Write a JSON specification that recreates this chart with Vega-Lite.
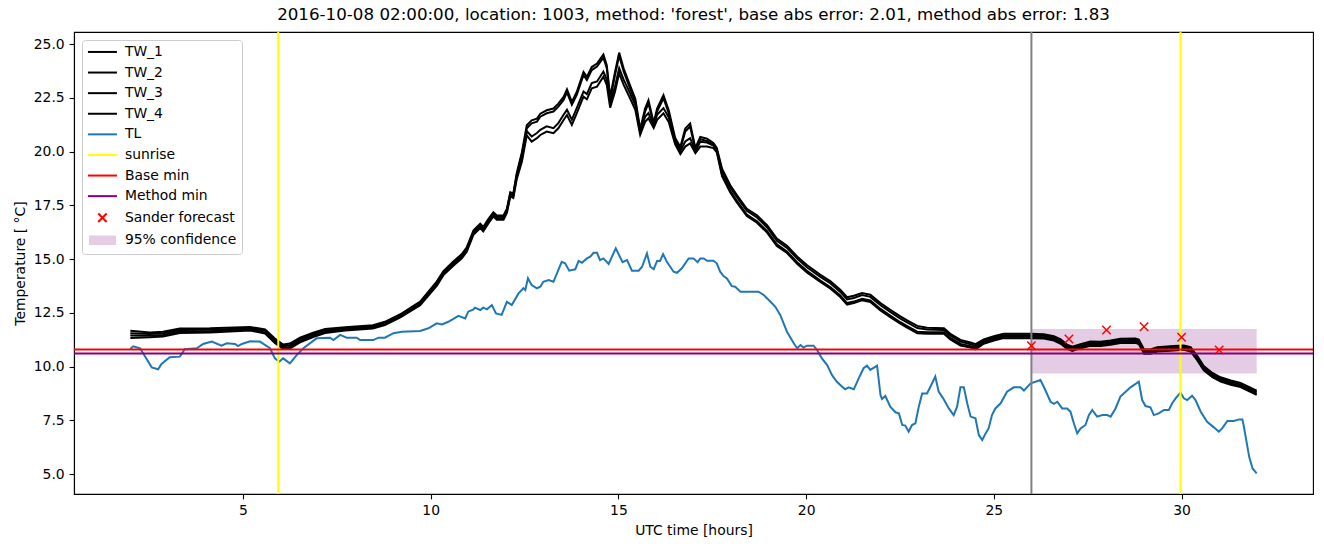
{
  "$schema": "https://vega.github.io/schema/vega-lite/v6.json",
  "width": 1239,
  "height": 462,
  "autosize": {"type": "none"},
  "padding": {"left": 74, "top": 32, "right": 11, "bottom": 53},
  "background": "white",
  "title": {"text": "2016-10-08 02:00:00, location: 1003, method: 'forest', base abs error: 2.01, method abs error: 1.83", "font": "DejaVu Sans", "fontSize": 16.7, "fontWeight": "normal", "color": "black", "anchor": "middle", "offset": 7},
  "config": {
    "view": {"stroke": "black", "strokeWidth": 1.1},
    "font": "DejaVu Sans",
    "axis": {"grid": false, "domainColor": "black", "domainWidth": 1.1, "tickColor": "black", "tickWidth": 1.1, "tickSize": 4.9, "labelFont": "DejaVu Sans", "labelFontSize": 13.9, "labelColor": "black", "labelPadding": 4.9, "titleFont": "DejaVu Sans", "titleFontSize": 13.9, "titleFontWeight": "normal", "titleColor": "black", "titlePadding": 5.6, "labelFlush": false, "labelOverlap": false}
  },
  "datasets": {
    "tw": [
      {"h":2.00,"TW_1":11.66,"TW_2":11.55,"TW_3":11.44,"TW_4":11.33},
      {"h":2.52,"TW_1":11.58,"TW_2":11.51,"TW_3":11.43,"TW_4":11.36},
      {"h":2.87,"TW_1":11.62,"TW_2":11.55,"TW_3":11.47,"TW_4":11.40},
      {"h":3.32,"TW_1":11.77,"TW_2":11.70,"TW_3":11.63,"TW_4":11.56},
      {"h":4.12,"TW_1":11.78,"TW_2":11.71,"TW_3":11.64,"TW_4":11.58},
      {"h":5.19,"TW_1":11.84,"TW_2":11.78,"TW_3":11.72,"TW_4":11.67},
      {"h":5.59,"TW_1":11.72,"TW_2":11.66,"TW_3":11.59,"TW_4":11.54},
      {"h":5.85,"TW_1":11.30,"TW_2":11.23,"TW_3":11.16,"TW_4":11.10},
      {"h":6.07,"TW_1":11.02,"TW_2":10.95,"TW_3":10.88,"TW_4":10.82},
      {"h":6.25,"TW_1":11.07,"TW_2":10.99,"TW_3":10.91,"TW_4":10.84},
      {"h":6.52,"TW_1":11.34,"TW_2":11.27,"TW_3":11.19,"TW_4":11.12},
      {"h":6.87,"TW_1":11.57,"TW_2":11.50,"TW_3":11.43,"TW_4":11.37},
      {"h":7.19,"TW_1":11.74,"TW_2":11.68,"TW_3":11.61,"TW_4":11.56},
      {"h":7.72,"TW_1":11.83,"TW_2":11.78,"TW_3":11.73,"TW_4":11.68},
      {"h":8.46,"TW_1":11.92,"TW_2":11.87,"TW_3":11.82,"TW_4":11.77},
      {"h":8.78,"TW_1":12.08,"TW_2":12.03,"TW_3":11.98,"TW_4":11.93},
      {"h":9.18,"TW_1":12.42,"TW_2":12.37,"TW_3":12.32,"TW_4":12.27},
      {"h":9.72,"TW_1":13.02,"TW_2":12.97,"TW_3":12.91,"TW_4":12.85},
      {"h":10.16,"TW_1":13.95,"TW_2":13.89,"TW_3":13.82,"TW_4":13.75},
      {"h":10.34,"TW_1":14.44,"TW_2":14.39,"TW_3":14.32,"TW_4":14.25},
      {"h":10.61,"TW_1":14.90,"TW_2":14.84,"TW_3":14.77,"TW_4":14.70},
      {"h":10.83,"TW_1":15.23,"TW_2":15.17,"TW_3":15.10,"TW_4":15.03},
      {"h":10.96,"TW_1":15.54,"TW_2":15.48,"TW_3":15.41,"TW_4":15.34},
      {"h":11.14,"TW_1":16.33,"TW_2":16.27,"TW_3":16.20,"TW_4":16.13},
      {"h":11.32,"TW_1":16.64,"TW_2":16.58,"TW_3":16.51,"TW_4":16.44},
      {"h":11.40,"TW_1":16.49,"TW_2":16.43,"TW_3":16.36,"TW_4":16.29},
      {"h":11.54,"TW_1":16.87,"TW_2":16.81,"TW_3":16.74,"TW_4":16.67},
      {"h":11.67,"TW_1":17.18,"TW_2":17.12,"TW_3":17.05,"TW_4":16.98},
      {"h":11.76,"TW_1":17.03,"TW_2":16.97,"TW_3":16.90,"TW_4":16.83},
      {"h":11.94,"TW_1":17.03,"TW_2":16.97,"TW_3":16.90,"TW_4":16.83},
      {"h":12.03,"TW_1":17.34,"TW_2":17.28,"TW_3":17.21,"TW_4":17.14},
      {"h":12.12,"TW_1":18.11,"TW_2":18.05,"TW_3":17.98,"TW_4":17.91},
      {"h":12.20,"TW_1":18.04,"TW_2":17.98,"TW_3":17.91,"TW_4":17.84},
      {"h":12.29,"TW_1":18.98,"TW_2":18.90,"TW_3":18.80,"TW_4":18.70},
      {"h":12.43,"TW_1":19.97,"TW_2":19.88,"TW_3":19.68,"TW_4":19.54},
      {"h":12.56,"TW_1":21.22,"TW_2":21.08,"TW_3":20.95,"TW_4":20.75},
      {"h":12.69,"TW_1":21.45,"TW_2":21.31,"TW_3":20.70,"TW_4":20.46},
      {"h":12.83,"TW_1":21.53,"TW_2":21.39,"TW_3":20.86,"TW_4":20.62},
      {"h":12.92,"TW_1":21.76,"TW_2":21.62,"TW_3":21.01,"TW_4":20.77},
      {"h":13.09,"TW_1":21.92,"TW_2":21.78,"TW_3":21.17,"TW_4":20.93},
      {"h":13.27,"TW_1":22.00,"TW_2":21.86,"TW_3":21.09,"TW_4":20.85},
      {"h":13.40,"TW_1":22.23,"TW_2":22.09,"TW_3":21.32,"TW_4":21.08},
      {"h":13.54,"TW_1":22.54,"TW_2":22.40,"TW_3":21.71,"TW_4":21.47},
      {"h":13.63,"TW_1":22.89,"TW_2":22.75,"TW_3":21.94,"TW_4":21.70},
      {"h":13.76,"TW_1":22.31,"TW_2":22.17,"TW_3":21.48,"TW_4":21.24},
      {"h":13.89,"TW_1":22.77,"TW_2":22.63,"TW_3":22.02,"TW_4":21.78},
      {"h":14.07,"TW_1":23.70,"TW_2":23.56,"TW_3":22.79,"TW_4":22.55},
      {"h":14.16,"TW_1":23.47,"TW_2":23.33,"TW_3":22.67,"TW_4":22.43},
      {"h":14.29,"TW_1":23.93,"TW_2":23.79,"TW_3":23.18,"TW_4":22.94},
      {"h":14.43,"TW_1":24.09,"TW_2":23.95,"TW_3":23.26,"TW_4":23.02},
      {"h":14.60,"TW_1":24.51,"TW_2":24.37,"TW_3":23.72,"TW_4":23.48},
      {"h":14.69,"TW_1":24.02,"TW_2":23.88,"TW_3":23.34,"TW_4":23.10},
      {"h":14.78,"TW_1":22.54,"TW_2":22.40,"TW_3":22.26,"TW_4":22.04},
      {"h":14.91,"TW_1":23.70,"TW_2":23.56,"TW_3":23.03,"TW_4":22.79},
      {"h":15.02,"TW_1":24.60,"TW_2":24.46,"TW_3":23.88,"TW_4":23.64},
      {"h":15.14,"TW_1":23.86,"TW_2":23.72,"TW_3":23.34,"TW_4":23.10},
      {"h":15.31,"TW_1":23.08,"TW_2":22.94,"TW_3":22.72,"TW_4":22.48},
      {"h":15.45,"TW_1":22.46,"TW_2":22.32,"TW_3":22.16,"TW_4":21.94},
      {"h":15.58,"TW_1":21.04,"TW_2":20.95,"TW_3":20.88,"TW_4":20.78},
      {"h":15.71,"TW_1":22.00,"TW_2":21.86,"TW_3":21.62,"TW_4":21.38},
      {"h":15.80,"TW_1":22.38,"TW_2":22.24,"TW_3":21.79,"TW_4":21.55},
      {"h":15.94,"TW_1":21.34,"TW_2":21.25,"TW_3":21.20,"TW_4":21.10},
      {"h":16.03,"TW_1":22.00,"TW_2":21.86,"TW_3":21.71,"TW_4":21.47},
      {"h":16.20,"TW_1":22.62,"TW_2":22.48,"TW_3":22.02,"TW_4":21.78},
      {"h":16.34,"TW_1":21.92,"TW_2":21.78,"TW_3":21.60,"TW_4":21.38},
      {"h":16.51,"TW_1":20.64,"TW_2":20.55,"TW_3":20.45,"TW_4":20.34},
      {"h":16.65,"TW_1":20.21,"TW_2":20.11,"TW_3":20.02,"TW_4":19.88},
      {"h":16.78,"TW_1":21.07,"TW_2":20.93,"TW_3":20.47,"TW_4":20.23},
      {"h":16.91,"TW_1":21.30,"TW_2":21.16,"TW_3":20.62,"TW_4":20.38},
      {"h":17.05,"TW_1":20.17,"TW_2":20.08,"TW_3":20.03,"TW_4":19.93},
      {"h":17.18,"TW_1":20.68,"TW_2":20.57,"TW_3":20.45,"TW_4":20.23},
      {"h":17.36,"TW_1":20.60,"TW_2":20.49,"TW_3":20.42,"TW_4":20.23},
      {"h":17.53,"TW_1":20.40,"TW_2":20.31,"TW_3":20.28,"TW_4":20.16},
      {"h":17.62,"TW_1":20.17,"TW_2":20.09,"TW_3":20.06,"TW_4":19.96},
      {"h":17.76,"TW_1":19.20,"TW_2":19.10,"TW_3":18.93,"TW_4":18.86},
      {"h":17.98,"TW_1":18.43,"TW_2":18.33,"TW_3":18.16,"TW_4":18.09},
      {"h":18.16,"TW_1":17.96,"TW_2":17.86,"TW_3":17.69,"TW_4":17.62},
      {"h":18.42,"TW_1":17.34,"TW_2":17.24,"TW_3":17.07,"TW_4":17.00},
      {"h":18.69,"TW_1":17.03,"TW_2":16.93,"TW_3":16.76,"TW_4":16.69},
      {"h":18.96,"TW_1":16.57,"TW_2":16.47,"TW_3":16.30,"TW_4":16.23},
      {"h":19.22,"TW_1":15.95,"TW_2":15.85,"TW_3":15.68,"TW_4":15.61},
      {"h":19.49,"TW_1":15.62,"TW_2":15.52,"TW_3":15.35,"TW_4":15.28},
      {"h":19.76,"TW_1":15.12,"TW_2":15.02,"TW_3":14.85,"TW_4":14.78},
      {"h":20.02,"TW_1":14.72,"TW_2":14.62,"TW_3":14.45,"TW_4":14.38},
      {"h":20.38,"TW_1":14.27,"TW_2":14.17,"TW_3":14.00,"TW_4":13.93},
      {"h":20.65,"TW_1":13.96,"TW_2":13.86,"TW_3":13.69,"TW_4":13.62},
      {"h":20.91,"TW_1":13.57,"TW_2":13.47,"TW_3":13.30,"TW_4":13.23},
      {"h":21.09,"TW_1":13.22,"TW_2":13.12,"TW_3":12.95,"TW_4":12.88},
      {"h":21.27,"TW_1":13.29,"TW_2":13.19,"TW_3":13.02,"TW_4":12.95},
      {"h":21.49,"TW_1":13.42,"TW_2":13.32,"TW_3":13.15,"TW_4":13.08},
      {"h":21.71,"TW_1":13.34,"TW_2":13.24,"TW_3":13.07,"TW_4":13.00},
      {"h":21.98,"TW_1":12.95,"TW_2":12.85,"TW_3":12.68,"TW_4":12.61},
      {"h":22.24,"TW_1":12.64,"TW_2":12.54,"TW_3":12.37,"TW_4":12.30},
      {"h":22.51,"TW_1":12.33,"TW_2":12.23,"TW_3":12.06,"TW_4":11.99},
      {"h":22.69,"TW_1":12.15,"TW_2":12.05,"TW_3":11.88,"TW_4":11.81},
      {"h":22.96,"TW_1":11.89,"TW_2":11.79,"TW_3":11.62,"TW_4":11.55},
      {"h":23.22,"TW_1":11.80,"TW_2":11.72,"TW_3":11.59,"TW_4":11.52},
      {"h":23.67,"TW_1":11.78,"TW_2":11.70,"TW_3":11.59,"TW_4":11.52},
      {"h":23.84,"TW_1":11.52,"TW_2":11.44,"TW_3":11.33,"TW_4":11.26},
      {"h":24.11,"TW_1":11.24,"TW_2":11.16,"TW_3":11.05,"TW_4":10.98},
      {"h":24.38,"TW_1":11.12,"TW_2":11.04,"TW_3":10.95,"TW_4":10.88},
      {"h":24.51,"TW_1":11.04,"TW_2":10.96,"TW_3":10.87,"TW_4":10.80},
      {"h":24.73,"TW_1":11.26,"TW_2":11.19,"TW_3":11.12,"TW_4":11.06},
      {"h":25.00,"TW_1":11.41,"TW_2":11.34,"TW_3":11.27,"TW_4":11.21},
      {"h":25.26,"TW_1":11.52,"TW_2":11.45,"TW_3":11.38,"TW_4":11.32},
      {"h":25.98,"TW_1":11.52,"TW_2":11.45,"TW_3":11.38,"TW_4":11.32},
      {"h":26.33,"TW_1":11.50,"TW_2":11.43,"TW_3":11.36,"TW_4":11.30},
      {"h":26.60,"TW_1":11.41,"TW_2":11.34,"TW_3":11.27,"TW_4":11.21},
      {"h":26.78,"TW_1":11.26,"TW_2":11.19,"TW_3":11.12,"TW_4":11.06},
      {"h":26.95,"TW_1":11.02,"TW_2":10.95,"TW_3":10.88,"TW_4":10.82},
      {"h":27.09,"TW_1":10.92,"TW_2":10.85,"TW_3":10.78,"TW_4":10.72},
      {"h":27.26,"TW_1":11.02,"TW_2":10.95,"TW_3":10.88,"TW_4":10.82},
      {"h":27.57,"TW_1":11.16,"TW_2":11.09,"TW_3":11.02,"TW_4":10.96},
      {"h":27.84,"TW_1":11.15,"TW_2":11.08,"TW_3":11.01,"TW_4":10.95},
      {"h":28.11,"TW_1":11.21,"TW_2":11.14,"TW_3":11.07,"TW_4":11.01},
      {"h":28.37,"TW_1":11.29,"TW_2":11.22,"TW_3":11.15,"TW_4":11.09},
      {"h":28.77,"TW_1":11.30,"TW_2":11.23,"TW_3":11.16,"TW_4":11.10},
      {"h":28.86,"TW_1":11.25,"TW_2":11.18,"TW_3":11.11,"TW_4":11.05},
      {"h":29.00,"TW_1":10.79,"TW_2":10.72,"TW_3":10.65,"TW_4":10.59},
      {"h":29.17,"TW_1":10.79,"TW_2":10.72,"TW_3":10.65,"TW_4":10.59},
      {"h":29.35,"TW_1":10.90,"TW_2":10.83,"TW_3":10.76,"TW_4":10.70},
      {"h":29.79,"TW_1":10.95,"TW_2":10.88,"TW_3":10.81,"TW_4":10.75},
      {"h":30.06,"TW_1":10.98,"TW_2":10.91,"TW_3":10.84,"TW_4":10.78},
      {"h":30.24,"TW_1":10.90,"TW_2":10.83,"TW_3":10.76,"TW_4":10.70},
      {"h":30.42,"TW_1":10.48,"TW_2":10.41,"TW_3":10.34,"TW_4":10.28},
      {"h":30.59,"TW_1":10.02,"TW_2":9.95,"TW_3":9.88,"TW_4":9.82},
      {"h":30.82,"TW_1":9.70,"TW_2":9.63,"TW_3":9.56,"TW_4":9.50},
      {"h":31.04,"TW_1":9.50,"TW_2":9.43,"TW_3":9.36,"TW_4":9.30},
      {"h":31.31,"TW_1":9.35,"TW_2":9.28,"TW_3":9.21,"TW_4":9.15},
      {"h":31.57,"TW_1":9.24,"TW_2":9.17,"TW_3":9.10,"TW_4":9.04},
      {"h":31.75,"TW_1":9.09,"TW_2":9.02,"TW_3":8.95,"TW_4":8.89},
      {"h":32.00,"TW_1":8.88,"TW_2":8.81,"TW_3":8.74,"TW_4":8.68}
    ],
    "tl": [
      {"h":2.00,"TL":10.83},{"h":2.08,"TL":10.94},{"h":2.26,"TL":10.85},{"h":2.57,"TL":9.96},{"h":2.74,"TL":9.87},{"h":2.83,"TL":10.12},{"h":3.05,"TL":10.43},{"h":3.32,"TL":10.46},{"h":3.45,"TL":10.80},{"h":3.77,"TL":10.85},
      {"h":3.94,"TL":11.05},{"h":4.17,"TL":11.16},{"h":4.43,"TL":10.97},{"h":4.57,"TL":11.08},{"h":4.79,"TL":11.05},{"h":4.87,"TL":10.95},{"h":4.97,"TL":11.05},{"h":5.19,"TL":11.17},{"h":5.45,"TL":11.16},{"h":5.72,"TL":10.85},
      {"h":5.85,"TL":10.38},{"h":5.97,"TL":10.22},{"h":6.07,"TL":10.38},{"h":6.25,"TL":10.15},{"h":6.43,"TL":10.53},{"h":6.61,"TL":10.85},{"h":6.96,"TL":11.31},{"h":7.32,"TL":11.34},{"h":7.41,"TL":11.23},{"h":7.59,"TL":11.47},
      {"h":7.76,"TL":11.34},{"h":8.03,"TL":11.34},{"h":8.12,"TL":11.23},{"h":8.47,"TL":11.23},{"h":8.61,"TL":11.34},{"h":8.78,"TL":11.34},{"h":9.01,"TL":11.55},{"h":9.23,"TL":11.62},{"h":9.72,"TL":11.65},{"h":9.94,"TL":11.78},
      {"h":10.16,"TL":12.01},{"h":10.30,"TL":11.96},{"h":10.47,"TL":12.08},{"h":10.74,"TL":12.36},{"h":10.92,"TL":12.24},{"h":11.00,"TL":12.55},{"h":11.14,"TL":12.66},{"h":11.18,"TL":12.74},{"h":11.32,"TL":12.63},{"h":11.40,"TL":12.74},
      {"h":11.50,"TL":12.66},{"h":11.63,"TL":12.86},{"h":11.74,"TL":12.47},{"h":11.89,"TL":12.40},{"h":12.03,"TL":13.01},{"h":12.16,"TL":12.86},{"h":12.34,"TL":13.40},{"h":12.47,"TL":13.64},{"h":12.52,"TL":13.56},{"h":12.59,"TL":14.10},
      {"h":12.69,"TL":13.79},{"h":12.83,"TL":13.64},{"h":12.92,"TL":13.71},{"h":13.00,"TL":13.94},{"h":13.14,"TL":14.02},{"h":13.27,"TL":13.94},{"h":13.49,"TL":14.87},{"h":13.58,"TL":14.80},{"h":13.69,"TL":14.46},{"h":13.85,"TL":14.52},
      {"h":13.94,"TL":14.91},{"h":14.03,"TL":14.83},{"h":14.16,"TL":15.03},{"h":14.25,"TL":15.11},{"h":14.34,"TL":15.29},{"h":14.43,"TL":15.29},{"h":14.51,"TL":14.95},{"h":14.60,"TL":15.03},{"h":14.74,"TL":14.77},{"h":14.93,"TL":15.50},
      {"h":15.11,"TL":14.85},{"h":15.23,"TL":14.95},{"h":15.36,"TL":14.46},{"h":15.54,"TL":14.46},{"h":15.63,"TL":14.64},{"h":15.76,"TL":15.26},{"h":15.85,"TL":14.64},{"h":15.94,"TL":14.53},{"h":16.03,"TL":14.91},{"h":16.11,"TL":14.91},
      {"h":16.19,"TL":15.23},{"h":16.29,"TL":14.87},{"h":16.47,"TL":14.41},{"h":16.56,"TL":14.36},{"h":16.69,"TL":14.57},{"h":16.87,"TL":15.03},{"h":17.00,"TL":15.03},{"h":17.11,"TL":14.85},{"h":17.18,"TL":15.03},{"h":17.27,"TL":15.03},
      {"h":17.36,"TL":14.92},{"h":17.53,"TL":14.92},{"h":17.62,"TL":14.80},{"h":17.71,"TL":14.41},{"h":17.80,"TL":14.21},{"h":17.89,"TL":14.10},{"h":18.02,"TL":13.74},{"h":18.11,"TL":13.71},{"h":18.25,"TL":13.48},{"h":18.38,"TL":13.48},
      {"h":18.73,"TL":13.48},{"h":18.87,"TL":13.33},{"h":19.05,"TL":13.01},{"h":19.18,"TL":12.78},{"h":19.31,"TL":12.40},{"h":19.49,"TL":11.62},{"h":19.67,"TL":11.08},{"h":19.76,"TL":10.85},{"h":19.85,"TL":11.00},{"h":19.93,"TL":10.88},
      {"h":20.02,"TL":10.97},{"h":20.20,"TL":10.97},{"h":20.29,"TL":10.77},{"h":20.42,"TL":10.38},{"h":20.56,"TL":10.07},{"h":20.69,"TL":9.60},{"h":20.82,"TL":9.29},{"h":20.96,"TL":9.06},{"h":21.04,"TL":8.94},{"h":21.13,"TL":9.03},
      {"h":21.27,"TL":8.94},{"h":21.40,"TL":9.45},{"h":21.53,"TL":9.92},{"h":21.62,"TL":10.04},{"h":21.71,"TL":9.84},{"h":21.89,"TL":10.04},{"h":21.98,"TL":8.67},{"h":22.02,"TL":8.49},{"h":22.11,"TL":8.63},{"h":22.24,"TL":8.13},
      {"h":22.38,"TL":7.87},{"h":22.47,"TL":7.82},{"h":22.56,"TL":7.28},{"h":22.64,"TL":7.25},{"h":22.73,"TL":6.97},{"h":22.82,"TL":7.28},{"h":22.91,"TL":7.36},{"h":23.00,"TL":8.13},{"h":23.09,"TL":8.75},{"h":23.22,"TL":8.75},
      {"h":23.31,"TL":9.06},{"h":23.44,"TL":9.53},{"h":23.53,"TL":8.83},{"h":23.65,"TL":8.52},{"h":23.80,"TL":8.05},{"h":23.93,"TL":7.74},{"h":24.02,"TL":8.13},{"h":24.11,"TL":9.03},{"h":24.20,"TL":9.03},{"h":24.29,"TL":8.29},
      {"h":24.38,"TL":7.67},{"h":24.51,"TL":7.59},{"h":24.60,"TL":6.81},{"h":24.69,"TL":6.58},{"h":24.78,"TL":6.89},{"h":24.86,"TL":7.12},{"h":24.95,"TL":7.74},{"h":25.04,"TL":8.05},{"h":25.18,"TL":8.29},{"h":25.35,"TL":8.83},
      {"h":25.53,"TL":9.03},{"h":25.71,"TL":9.03},{"h":25.80,"TL":8.88},{"h":25.98,"TL":9.22},{"h":26.11,"TL":9.29},{"h":26.24,"TL":9.37},{"h":26.33,"TL":9.06},{"h":26.51,"TL":8.36},{"h":26.60,"TL":8.26},{"h":26.69,"TL":8.36},
      {"h":26.82,"TL":8.05},{"h":26.95,"TL":8.05},{"h":27.04,"TL":7.90},{"h":27.13,"TL":7.36},{"h":27.22,"TL":6.89},{"h":27.31,"TL":7.12},{"h":27.44,"TL":7.28},{"h":27.53,"TL":7.74},{"h":27.62,"TL":7.98},{"h":27.75,"TL":7.67},
      {"h":27.89,"TL":7.74},{"h":28.02,"TL":7.74},{"h":28.11,"TL":7.67},{"h":28.24,"TL":8.05},{"h":28.37,"TL":8.60},{"h":28.51,"TL":8.83},{"h":28.64,"TL":9.03},{"h":28.86,"TL":9.29},{"h":28.95,"TL":8.44},{"h":29.04,"TL":8.16},
      {"h":29.17,"TL":8.10},{"h":29.26,"TL":7.74},{"h":29.39,"TL":7.82},{"h":29.53,"TL":7.98},{"h":29.66,"TL":7.98},{"h":29.75,"TL":8.29},{"h":29.84,"TL":8.52},{"h":29.97,"TL":8.78},{"h":30.06,"TL":8.52},{"h":30.15,"TL":8.44},
      {"h":30.28,"TL":8.64},{"h":30.37,"TL":8.44},{"h":30.51,"TL":7.90},{"h":30.68,"TL":7.43},{"h":30.86,"TL":7.17},{"h":30.99,"TL":6.97},{"h":31.08,"TL":7.12},{"h":31.22,"TL":7.47},{"h":31.39,"TL":7.47},{"h":31.53,"TL":7.54},
      {"h":31.62,"TL":7.54},{"h":31.66,"TL":7.20},{"h":31.80,"TL":5.80},{"h":31.89,"TL":5.26},{"h":32.00,"TL":5.03}
    ],
    "sunrise": [{"h": 5.94, "series": "sunrise"}, {"h": 29.97, "series": "sunrise"}],
    "now": [{"h": 26.0}],
    "mins": [{"T": 10.79, "series": "Base min"}, {"T": 10.61, "series": "Method min"}],
    "sander": [
      {"h": 26, "T": 10.97, "series": "Sander forecast"},
      {"h": 27, "T": 11.28, "series": "Sander forecast"},
      {"h": 28, "T": 11.70, "series": "Sander forecast"},
      {"h": 29, "T": 11.85, "series": "Sander forecast"},
      {"h": 30, "T": 11.36, "series": "Sander forecast"},
      {"h": 31, "T": 10.77, "series": "Sander forecast"}
    ],
    "conf": [{"h": 26.0, "h2": 32.0, "T": 9.67, "T2": 11.74, "series": "95% confidence"}]
  },
  "layer": [
    {
      "data": {"name": "conf"},
      "mark": {"type": "rect"},
      "encoding": {
        "x": {"field": "h", "type": "quantitative", "scale": {"domain": [0.5, 33.5], "nice": false, "zero": false}, "axis": {"title": "UTC time [hours]", "values": [5, 10, 15, 20, 25, 30], "format": "d"}},
        "x2": {"field": "h2"},
        "y": {"field": "T", "type": "quantitative", "scale": {"domain": [4.07, 25.56], "nice": false, "zero": false}, "axis": {"title": "Temperature [ °C]", "values": [5, 7.5, 10, 12.5, 15, 17.5, 20, 22.5, 25], "format": ".1f"}},
        "y2": {"field": "T2"},
        "color": {"field": "series", "type": "nominal",
          "scale": {"domain": ["TW_1","TW_2","TW_3","TW_4","TL","sunrise","Base min","Method min","Sander forecast","95% confidence"], "range": ["#000000","#000000","#000000","#000000","#1f77b4","#ffff00","#ff0000","#800080","#ff0000","#e5cce5"]},
          "legend": {"title": null, "orient": "none", "legendX": 8, "legendY": 8, "padding": 5, "strokeColor": "#cccccc", "fillColor": "rgba(255,255,255,0.8)", "cornerRadius": 3, "labelFont": "DejaVu Sans", "labelFontSize": 13.9, "labelColor": "black", "symbolSize": 100, "symbolStrokeWidth": 2, "symbolOffset": 8.5, "labelOffset": 15.5, "rowPadding": 5.6, "labelLimit": 300}}
      }
    },
    {
      "data": {"name": "tw"},
      "transform": [{"fold": ["TW_1", "TW_2", "TW_3", "TW_4"], "as": ["series", "T"]}],
      "mark": {"type": "line", "strokeWidth": 2},
      "encoding": {
        "x": {"field": "h", "type": "quantitative", "axis": {"title": "UTC time [hours]", "values": [5, 10, 15, 20, 25, 30], "format": "d"}},
        "y": {"field": "T", "type": "quantitative", "axis": {"title": "Temperature [ °C]", "values": [5, 7.5, 10, 12.5, 15, 17.5, 20, 22.5, 25], "format": ".1f"}},
        "detail": {"field": "series"},
        "color": {"field": "series", "type": "nominal"}
      }
    },
    {
      "data": {"name": "tl"},
      "transform": [{"fold": ["TL"], "as": ["series", "T"]}],
      "mark": {"type": "line", "strokeWidth": 2},
      "encoding": {
        "x": {"field": "h", "type": "quantitative", "axis": {"title": "UTC time [hours]", "values": [5, 10, 15, 20, 25, 30], "format": "d"}},
        "y": {"field": "T", "type": "quantitative", "axis": {"title": "Temperature [ °C]", "values": [5, 7.5, 10, 12.5, 15, 17.5, 20, 22.5, 25], "format": ".1f"}},
        "color": {"field": "series", "type": "nominal"}
      }
    },
    {
      "data": {"name": "sunrise"},
      "mark": {"type": "rule", "strokeWidth": 2},
      "encoding": {
        "x": {"field": "h", "type": "quantitative", "axis": {"title": "UTC time [hours]", "values": [5, 10, 15, 20, 25, 30], "format": "d"}},
        "color": {"field": "series", "type": "nominal"}
      }
    },
    {
      "data": {"name": "now"},
      "mark": {"type": "rule", "strokeWidth": 2, "color": "#808080"},
      "encoding": {
        "x": {"field": "h", "type": "quantitative", "axis": {"title": "UTC time [hours]", "values": [5, 10, 15, 20, 25, 30], "format": "d"}}
      }
    },
    {
      "data": {"name": "mins"},
      "mark": {"type": "rule", "strokeWidth": 2},
      "encoding": {
        "y": {"field": "T", "type": "quantitative", "axis": {"title": "Temperature [ °C]", "values": [5, 7.5, 10, 12.5, 15, 17.5, 20, 22.5, 25], "format": ".1f"}},
        "color": {"field": "series", "type": "nominal"}
      }
    },
    {
      "data": {"name": "sander"},
      "mark": {"type": "point", "filled": false, "size": 100, "strokeWidth": 1.5, "opacity": 1},
      "encoding": {
        "x": {"field": "h", "type": "quantitative", "axis": {"title": "UTC time [hours]", "values": [5, 10, 15, 20, 25, 30], "format": "d"}},
        "y": {"field": "T", "type": "quantitative", "axis": {"title": "Temperature [ °C]", "values": [5, 7.5, 10, 12.5, 15, 17.5, 20, 22.5, 25], "format": ".1f"}},
        "color": {"field": "series", "type": "nominal"},
        "shape": {"field": "series", "type": "nominal",
          "scale": {"domain": ["TW_1","TW_2","TW_3","TW_4","TL","sunrise","Base min","Method min","Sander forecast","95% confidence"],
            "range": ["M-2.9,0L2.9,0","M-2.9,0L2.9,0","M-2.9,0L2.9,0","M-2.9,0L2.9,0","M-2.9,0L2.9,0","M-2.9,0L2.9,0","M-2.9,0L2.9,0","M-2.9,0L2.9,0","M-0.84,-0.84L0.84,0.84M-0.84,0.84L0.84,-0.84","M-2.7,-0.75L2.7,-0.75M-2.7,-0.45L2.7,-0.45M-2.7,-0.15L2.7,-0.15M-2.7,0.15L2.7,0.15M-2.7,0.45L2.7,0.45M-2.7,0.75L2.7,0.75"]},
          "legend": {"title": null, "orient": "none", "legendX": 8, "legendY": 8}}
      }
    }
  ]
}
